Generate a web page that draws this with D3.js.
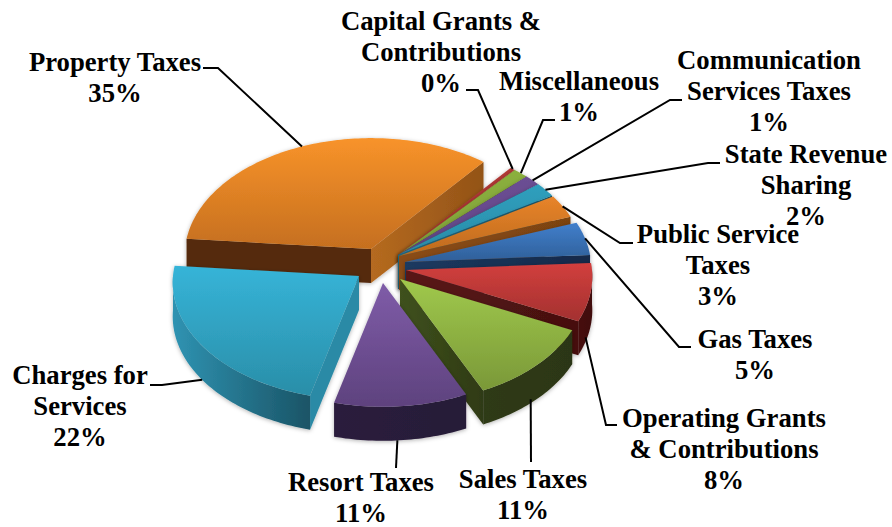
<!DOCTYPE html>
<html>
<head>
<meta charset="utf-8">
<script src="https://cdn.jsdelivr.net/npm/d3@7"></script>
<style>
  html, body { margin: 0; background: #fff; }
  text { font-family: "Liberation Serif", serif; font-weight: bold; font-size: 26.7px; fill: #000; }
</style>
</head>
<body>
<svg width="892" height="527"></svg>
<script>
// slices, clockwise from the left edge of Property Taxes
var categories = ["Property Taxes", "Capital Grants & Contributions", "Miscellaneous",
  "Communication Services Taxes", "State Revenue Sharing", "Public Service Taxes", "Gas Taxes",
  "Operating Grants & Contributions", "Sales Taxes", "Resort Taxes", "Charges for Services"]
var values = [34.5, 0.49, 1.4, 1.49, 2, 3.2, 4.6, 8, 11, 11, 22.4]

// label text broken the way the chart breaks it
var labelLines = [["Property Taxes"], ["Capital Grants &", "Contributions"], ["Miscellaneous"],
  ["Communication", "Services Taxes"], ["State Revenue", "Sharing"], ["Public Service", "Taxes"], ["Gas Taxes"],
  ["Operating Grants", "& Contributions"], ["Sales Taxes"], ["Resort Taxes"], ["Charges for", "Services"]]

// [top, bottom of top face, wall light, wall dark]
var colors = [
  ["#f8932a", "#c56f1f", "#b56a20", "#552a0c"],
  ["#b23a36", "#a03030", "#7a2422", "#4e1212"],
  ["#8bb03e", "#7f9f38", "#55701f", "#38451a"],
  ["#6c4f94", "#5f4384", "#46305f", "#2e1f45"],
  ["#2f9fbd", "#2a8ca8", "#1f6d84", "#1a5466"],
  ["#e8842a", "#bd6a1d", "#8a4c14", "#7c4311"],
  ["#417fcc", "#2f5f98", "#1c3a60", "#13294a"],
  ["#d23f3d", "#a33130", "#5a1615", "#461010"],
  ["#a0c94c", "#7a9838", "#3f511d", "#2f3a14"],
  ["#7f5ca8", "#5e427e", "#38264f", "#2a1c3c"],
  ["#36b4d8", "#2a8ea8", "#2f93b2", "#1a5466"]
]

// how far each slice is pulled off the pie centre, in pixels
var pullX = [-27, 0, 0, 0, 0, 1, 7, 8, 2, -15, -39]
var pullY = [-6, 0, 0, 0, 0, 1, 7, 15, 24, 28, 21]

var cx = 398, cy = 255, rx = 186, ry = 117, persp = 0.055, depth = 34
var startDeg = -85

var leaderDrop = [0, 0, 0, 0, 0, 0, 0, 1, 1, 1, 1]   // leader starts at bottom of the wall for these
var leaderNudgeX = [0, 0, 0, 0, 0, 0, 0, -5, -6, -4, 0]
var leaderNudgeY = [0, 0, 0, 0, 0, 0, 0, 11, 0, 0, 0]
var leaderElbow = [[218, 68, 203, 68], [478, 90, 466, 90], [543, 120, 555, 120], [670, 100, 682, 100],
  [708, 163, 720, 163], [620, 243, 633, 243], [679, 347, 691, 347], [606, 425, 617, 425],
  [531, 462, 531, 462], [396, 468, 396, 468], [162, 385, 150, 385]]
var labelX = [115, 441, 579, 769, 806, 718, 755, 724, 523, 361, 80]
var labelY = [71, 30, 90, 69, 163, 243, 348, 427, 488, 491, 384]

var svg = d3.select("svg")
var defs = svg.append("defs")

var shadow = defs.append("filter").attr("id", "soft")
  .attr("x", "-10%").attr("y", "-10%").attr("width", "120%").attr("height", "125%")
shadow.append("feDropShadow").attr("dx", 0).attr("dy", 1).attr("stdDeviation", 2)
  .attr("flood-color", "#000").attr("flood-opacity", 0.3)

var pie = d3.pie().sort(null)
  .startAngle(startDeg * Math.PI / 180)
  .endAngle((startDeg + 360) * Math.PI / 180)
var arcs = pie(values)

// theta clockwise from the back of the pie, r from 0 to 1
function project(i, theta, r) {
  var s = 1 / (1 + persp * r * Math.cos(theta))
  return [cx + pullX[i] + rx * r * Math.sin(theta) * s,
          cy + pullY[i] - ry * r * Math.cos(theta) * s]
}
var line = d3.line()

function gradient(id, c0, c1, horizontal) {
  var g = defs.append("linearGradient").attr("id", id)
    .attr("x1", 0).attr("y1", 0).attr("x2", horizontal ? 1 : 0).attr("y2", horizontal ? 0 : 1)
  g.append("stop").attr("offset", 0).attr("stop-color", c0)
  g.append("stop").attr("offset", 1).attr("stop-color", c1)
  return "url(#" + id + ")"
}

function arcPoints(i, a0, a1) {
  var n = Math.max(2, Math.ceil((a1 - a0) / 0.02))
  return d3.range(n + 1).map(function(k) { return project(i, a0 + (a1 - a0) * k / n, 1) })
}

function wall(top) {
  var bottom = top.slice().reverse().map(function(p) { return [p[0], p[1] + depth] })
  return line(top.concat(bottom)) + "Z"
}

var sliceG = svg.append("g").selectAll("g").data(arcs).join("g")
  .attr("filter", "url(#soft)")

sliceG.each(function(d, i) {
  var g = d3.select(this)
  var c = colors[i]
  var apex = project(i, 0, 0)

  // radial walls, only where they face the viewer
  if (Math.cos(d.startAngle - Math.PI / 2) < 0) {
    g.append("path").attr("d", wall([apex, project(i, d.startAngle, 1)]))
      .attr("fill", i == 10 ? "#2c8aa6" : c[3])
  }
  if (Math.cos(d.endAngle + Math.PI / 2) < 0) {
    g.append("path").attr("d", wall([apex, project(i, d.endAngle, 1)]))
      .attr("fill", gradient("side" + i, c[2], c[3] == "#552a0c" ? "#935317" : c[3], true))
  }

  // outer wall, front half of the rim
  var a0 = Math.max(d.startAngle, Math.PI / 2), a1 = Math.min(d.endAngle, 3 * Math.PI / 2)
  if (a1 > a0) {
    g.append("path").attr("d", wall(arcPoints(i, a0, a1)))
      .attr("fill", i == 10 ? gradient("rim" + i, c[2], c[3], true)
                            : gradient("rim" + i, c[3], d3.color(c[3]).darker(0.2), true))
  }

  // top face
  g.append("path")
    .attr("d", line([apex].concat(arcPoints(i, d.startAngle, d.endAngle))) + "Z")
    .attr("fill", gradient("top" + i, c[0], c[1], false))
})

// leaders from the slice mid angle out to the label
svg.append("g").selectAll("path").data(arcs).join("path")
  .attr("fill", "none").attr("stroke", "#000").attr("stroke-width", 2)
  .attr("d", function(d, i) {
    var p = project(i, (d.startAngle + d.endAngle) / 2, 1)
    var e = leaderElbow[i]
    return line([[p[0] + leaderNudgeX[i], p[1] + leaderDrop[i] * depth + leaderNudgeY[i]], [e[0], e[1]], [e[2], e[3]]])
  })

// labels: name lines and then the percent
var lineHeight = 31
svg.append("g").selectAll("text").data(categories).join("text")
  .attr("text-anchor", "middle")
  .attr("y", function(d, i) { return labelY[i] })
  .each(function(d, i) {
    var t = d3.select(this)
    labelLines[i].concat([Math.round(values[i]) + "%"]).forEach(function(s, k) {
      t.append("tspan").attr("x", labelX[i]).attr("dy", k ? lineHeight : 0).text(s)
    })
  })
</script>
</body>
</html>
